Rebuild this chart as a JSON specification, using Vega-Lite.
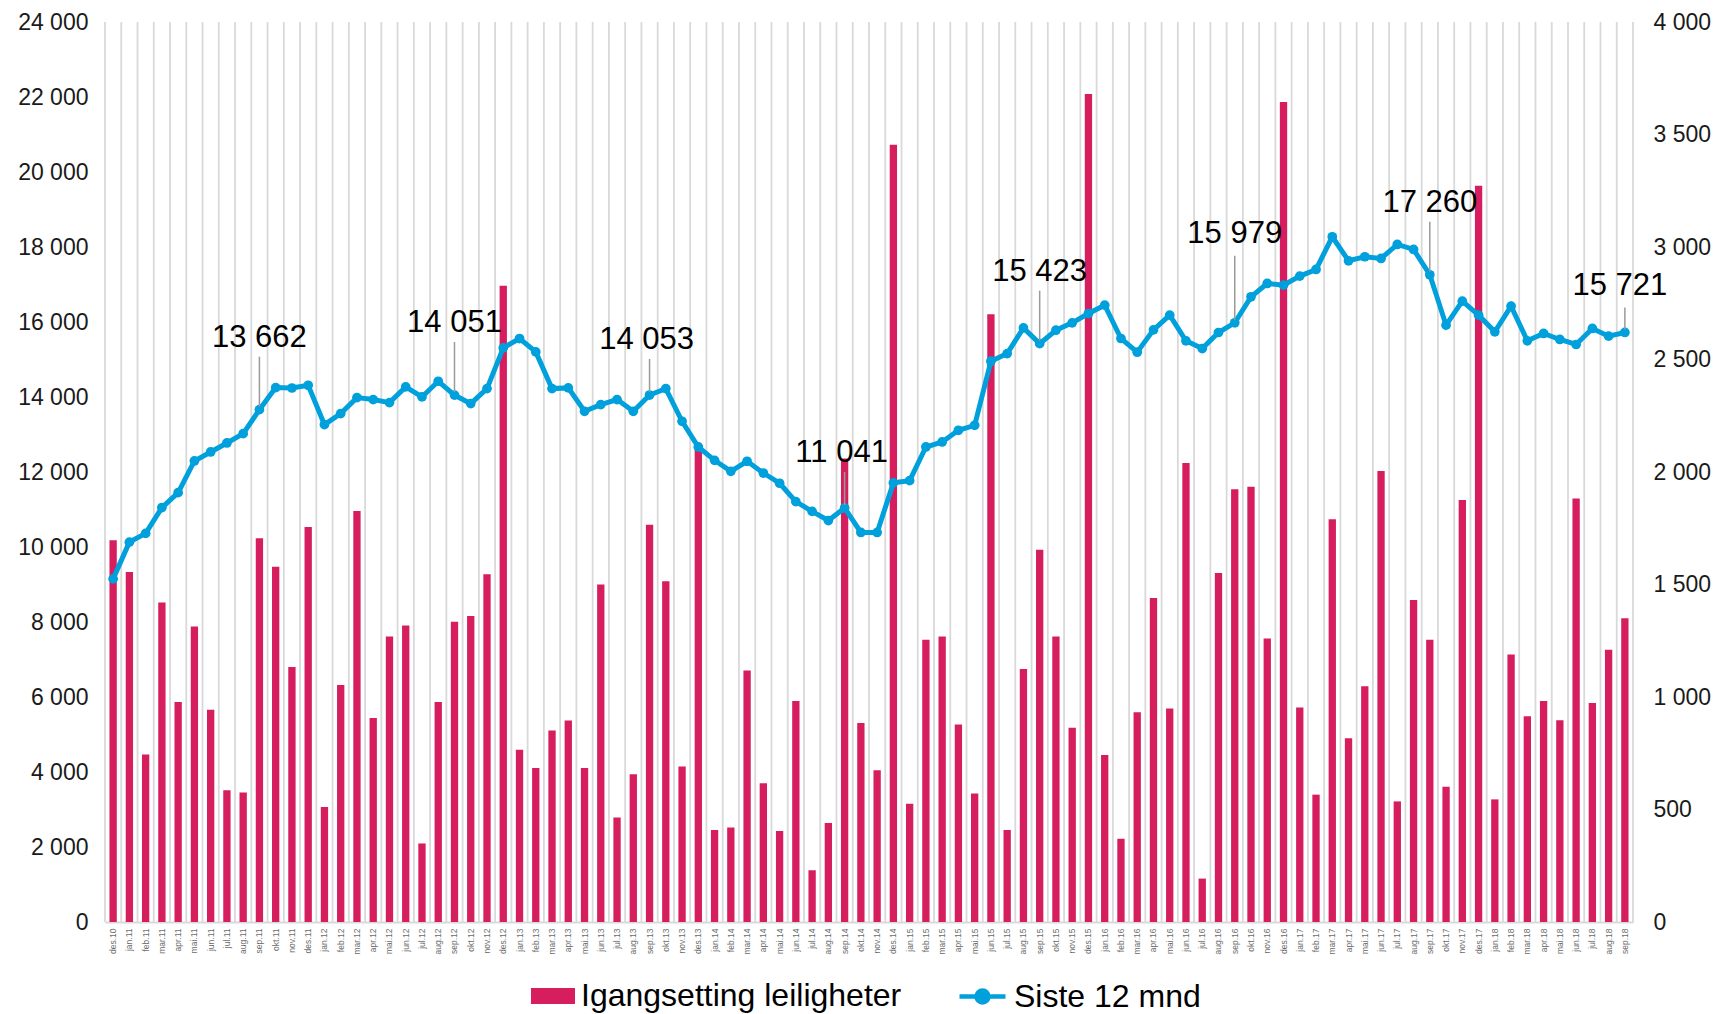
{
  "$schema": "https://vega.github.io/schema/vega-lite/v6.json",
  "width": 1528,
  "height": 900,
  "autosize": {"type": "none"},
  "padding": {"left": 105, "top": 22, "right": 83, "bottom": 92},
  "background": "white",
  "config": {
    "view": {"stroke": null},
    "font": "Liberation Sans",
    "locale": {"number": {"decimal": ",", "thousands": " ", "grouping": [3], "currency": ["", " kr"]}}
  },
  "data": {"values": [
    {"month": "des.10", "igangsatt": 1697, "siste12": 9150},
    {"month": "jan.11", "igangsatt": 1556, "siste12": 10130},
    {"month": "feb.11", "igangsatt": 745, "siste12": 10363},
    {"month": "mar.11", "igangsatt": 1420, "siste12": 11052},
    {"month": "apr.11", "igangsatt": 978, "siste12": 11450},
    {"month": "mai.11", "igangsatt": 1313, "siste12": 12294},
    {"month": "jun.11", "igangsatt": 943, "siste12": 12534},
    {"month": "jul.11", "igangsatt": 586, "siste12": 12774},
    {"month": "aug.11", "igangsatt": 576, "siste12": 13023},
    {"month": "sep.11", "igangsatt": 1706, "siste12": 13662},
    {"month": "okt.11", "igangsatt": 1579, "siste12": 14251},
    {"month": "nov.11", "igangsatt": 1133, "siste12": 14240},
    {"month": "des.11", "igangsatt": 1756, "siste12": 14313},
    {"month": "jan.12", "igangsatt": 511, "siste12": 13263},
    {"month": "feb.12", "igangsatt": 1053, "siste12": 13557},
    {"month": "mar.12", "igangsatt": 1827, "siste12": 13984},
    {"month": "apr.12", "igangsatt": 907, "siste12": 13931},
    {"month": "mai.12", "igangsatt": 1269, "siste12": 13851},
    {"month": "jun.12", "igangsatt": 1318, "siste12": 14269},
    {"month": "jul.12", "igangsatt": 349, "siste12": 14002},
    {"month": "aug.12", "igangsatt": 978, "siste12": 14420},
    {"month": "sep.12", "igangsatt": 1334, "siste12": 14051},
    {"month": "okt.12", "igangsatt": 1360, "siste12": 13824},
    {"month": "nov.12", "igangsatt": 1546, "siste12": 14224},
    {"month": "des.12", "igangsatt": 2828, "siste12": 15310},
    {"month": "jan.13", "igangsatt": 766, "siste12": 15559},
    {"month": "feb.13", "igangsatt": 684, "siste12": 15203},
    {"month": "mar.13", "igangsatt": 851, "siste12": 14224},
    {"month": "apr.13", "igangsatt": 896, "siste12": 14242},
    {"month": "mai.13", "igangsatt": 684, "siste12": 13619},
    {"month": "jun.13", "igangsatt": 1500, "siste12": 13797},
    {"month": "jul.13", "igangsatt": 464, "siste12": 13931},
    {"month": "aug.13", "igangsatt": 657, "siste12": 13619},
    {"month": "sep.13", "igangsatt": 1766, "siste12": 14053},
    {"month": "okt.13", "igangsatt": 1514, "siste12": 14224},
    {"month": "nov.13", "igangsatt": 691, "siste12": 13352},
    {"month": "des.13", "igangsatt": 2110, "siste12": 12667},
    {"month": "jan.14", "igangsatt": 409, "siste12": 12311},
    {"month": "feb.14", "igangsatt": 420, "siste12": 12018},
    {"month": "mar.14", "igangsatt": 1118, "siste12": 12285},
    {"month": "apr.14", "igangsatt": 617, "siste12": 11973},
    {"month": "mai.14", "igangsatt": 405, "siste12": 11700},
    {"month": "jun.14", "igangsatt": 982, "siste12": 11210},
    {"month": "jul.14", "igangsatt": 230, "siste12": 10950},
    {"month": "aug.14", "igangsatt": 440, "siste12": 10706},
    {"month": "sep.14", "igangsatt": 2060, "siste12": 11041},
    {"month": "okt.14", "igangsatt": 885, "siste12": 10388},
    {"month": "nov.14", "igangsatt": 675, "siste12": 10388},
    {"month": "des.14", "igangsatt": 3455, "siste12": 11710},
    {"month": "jan.15", "igangsatt": 526, "siste12": 11770},
    {"month": "feb.15", "igangsatt": 1254, "siste12": 12667},
    {"month": "mar.15", "igangsatt": 1269, "siste12": 12801},
    {"month": "apr.15", "igangsatt": 878, "siste12": 13112},
    {"month": "mai.15", "igangsatt": 571, "siste12": 13246},
    {"month": "jun.15", "igangsatt": 2701, "siste12": 14954},
    {"month": "jul.15", "igangsatt": 409, "siste12": 15158},
    {"month": "aug.15", "igangsatt": 1124, "siste12": 15843},
    {"month": "sep.15", "igangsatt": 1655, "siste12": 15423},
    {"month": "okt.15", "igangsatt": 1269, "siste12": 15781},
    {"month": "nov.15", "igangsatt": 863, "siste12": 15977},
    {"month": "des.15", "igangsatt": 3680, "siste12": 16226},
    {"month": "jan.16", "igangsatt": 742, "siste12": 16449},
    {"month": "feb.16", "igangsatt": 370, "siste12": 15560},
    {"month": "mar.16", "igangsatt": 932, "siste12": 15195},
    {"month": "apr.16", "igangsatt": 1440, "siste12": 15790},
    {"month": "mai.16", "igangsatt": 949, "siste12": 16183},
    {"month": "jun.16", "igangsatt": 2040, "siste12": 15498},
    {"month": "jul.16", "igangsatt": 193, "siste12": 15293},
    {"month": "aug.16", "igangsatt": 1551, "siste12": 15720},
    {"month": "sep.16", "igangsatt": 1923, "siste12": 15979},
    {"month": "okt.16", "igangsatt": 1934, "siste12": 16672},
    {"month": "nov.16", "igangsatt": 1260, "siste12": 17028},
    {"month": "des.16", "igangsatt": 3645, "siste12": 16983},
    {"month": "jan.17", "igangsatt": 953, "siste12": 17224},
    {"month": "feb.17", "igangsatt": 566, "siste12": 17401},
    {"month": "mar.17", "igangsatt": 1790, "siste12": 18273},
    {"month": "apr.17", "igangsatt": 817, "siste12": 17633},
    {"month": "mai.17", "igangsatt": 1048, "siste12": 17740},
    {"month": "jun.17", "igangsatt": 2005, "siste12": 17695},
    {"month": "jul.17", "igangsatt": 536, "siste12": 18068},
    {"month": "aug.17", "igangsatt": 1431, "siste12": 17935},
    {"month": "sep.17", "igangsatt": 1255, "siste12": 17260},
    {"month": "okt.17", "igangsatt": 601, "siste12": 15916},
    {"month": "nov.17", "igangsatt": 1876, "siste12": 16556},
    {"month": "des.17", "igangsatt": 3272, "siste12": 16183},
    {"month": "jan.18", "igangsatt": 545, "siste12": 15738},
    {"month": "feb.18", "igangsatt": 1189, "siste12": 16423},
    {"month": "mar.18", "igangsatt": 914, "siste12": 15498},
    {"month": "apr.18", "igangsatt": 982, "siste12": 15694},
    {"month": "mai.18", "igangsatt": 897, "siste12": 15534},
    {"month": "jun.18", "igangsatt": 1882, "siste12": 15400},
    {"month": "jul.18", "igangsatt": 973, "siste12": 15827},
    {"month": "aug.18", "igangsatt": 1210, "siste12": 15623},
    {"month": "sep.18", "igangsatt": 1350, "siste12": 15721}
  ]},
  "encoding": {
    "x": {
      "field": "month", "type": "nominal", "sort": null,
      "scale": {"paddingInner": 0, "paddingOuter": 0},
      "axis": {
        "title": null, "labelAngle": -90, "labelFontSize": 8.5, "labelColor": "#6b6b6b",
        "labelPadding": 6, "ticks": false, "domainColor": "#d9d9d9", "domainWidth": 2,
        "grid": false, "labelOverlap": false
      }
    }
  },
  "layer": [
    {
      "mark": {"type": "rule", "color": "#d9d9d9", "strokeWidth": 1.8},
      "encoding": {"x": {"field": "month", "type": "nominal", "sort": null, "bandPosition": 0}}
    },
    {
      "transform": [{"filter": {"field": "month", "equal": "sep.18"}}],
      "mark": {"type": "rule", "color": "#d9d9d9", "strokeWidth": 1.8},
      "encoding": {"x": {"field": "month", "type": "nominal", "sort": null, "bandPosition": 1}}
    },
    {
      "mark": {"type": "bar", "width": {"band": 0.45}},
      "encoding": {
        "y": {
          "field": "igangsatt", "type": "quantitative",
          "scale": {"domain": [0, 4000], "nice": false},
          "axis": {
            "orient": "right", "title": null, "values": [0, 500, 1000, 1500, 2000, 2500, 3000, 3500, 4000],
            "format": ",d", "domain": false, "ticks": false, "grid": false,
            "labelFontSize": 23, "labelColor": "#1a1a1a", "labelPadding": 20
          }
        },
        "fill": {
          "datum": "Igangsetting leiligheter", "type": "nominal",
          "scale": {"range": ["#D61D5E"]},
          "legend": {
            "orient": "none", "legendX": 426, "legendY": 952, "title": null, "padding": 0,
            "symbolType": "M-1,-0.36H1V0.36H-1Z", "symbolSize": 1936, "symbolStrokeWidth": 0,
            "labelFontSize": 32, "labelColor": "#000000", "labelLimit": 0, "labelOffset": 6
          }
        }
      }
    },
    {
      "encoding": {
        "y": {
          "field": "siste12", "type": "quantitative",
          "scale": {"domain": [0, 24000], "nice": false},
          "axis": {
            "orient": "left", "title": null,
            "values": [0, 2000, 4000, 6000, 8000, 10000, 12000, 14000, 16000, 18000, 20000, 22000, 24000],
            "format": ",d", "domain": false, "ticks": false, "grid": false,
            "labelFontSize": 23, "labelColor": "#1a1a1a", "labelPadding": 17
          }
        }
      },
      "layer": [
        {
          "mark": {"type": "line", "strokeWidth": 5},
          "encoding": {
            "stroke": {
              "datum": "Siste 12 mnd", "type": "nominal",
              "scale": {"range": ["#00A0DC"]},
              "legend": {
                "orient": "none", "legendX": 852, "legendY": 949, "title": null, "padding": 0,
                "symbolType": "M-1,0H1M0.26,0A0.26,0.26,0,1,1,-0.26,0A0.26,0.26,0,1,1,0.26,0Z",
                "symbolSize": 2116, "symbolStrokeWidth": 4.5, "symbolFillColor": "#00A0DC",
                "labelFontSize": 32, "labelColor": "#000000", "labelLimit": 0, "labelOffset": 6,
                "encode": {"symbols": {"update": {"fill": {"value": "#00A0DC"}, "fillOpacity": {"value": 1}}}}
              }
            }
          }
        },
        {
          "mark": {"type": "circle", "size": 95, "color": "#00A0DC", "opacity": 1}
        },
        {
          "transform": [{"filter": {"field": "month", "oneOf": ["sep.11", "sep.12", "sep.15", "sep.17"]}}],
          "layer": [
            {"mark": {"type": "rule", "color": "#9a9a9a", "strokeWidth": 1.5, "yOffset": -3, "y2Offset": -53},
             "encoding": {"y2": {"field": "siste12"}}},
            {"mark": {"type": "text", "fontSize": 31, "color": "#000000", "align": "center", "baseline": "alphabetic", "dy": -63},
             "encoding": {"text": {"field": "siste12", "type": "quantitative", "format": ",d"}}}
          ]
        },
        {
          "transform": [{"filter": {"field": "month", "oneOf": ["sep.13", "sep.14"]}}],
          "layer": [
            {"mark": {"type": "rule", "color": "#9a9a9a", "strokeWidth": 1.5, "yOffset": -3, "y2Offset": -36},
             "encoding": {"y2": {"field": "siste12"}}},
            {"mark": {"type": "text", "fontSize": 31, "color": "#000000", "align": "center", "baseline": "alphabetic", "dy": -46, "dx": -3},
             "encoding": {"text": {"field": "siste12", "type": "quantitative", "format": ",d"}}}
          ]
        },
        {
          "transform": [{"filter": {"field": "month", "equal": "sep.16"}}],
          "layer": [
            {"mark": {"type": "rule", "color": "#9a9a9a", "strokeWidth": 1.5, "yOffset": -3, "y2Offset": -67},
             "encoding": {"y2": {"field": "siste12"}}},
            {"mark": {"type": "text", "fontSize": 31, "color": "#000000", "align": "center", "baseline": "alphabetic", "dy": -80},
             "encoding": {"text": {"field": "siste12", "type": "quantitative", "format": ",d"}}}
          ]
        },
        {
          "transform": [{"filter": {"field": "month", "equal": "sep.18"}}],
          "layer": [
            {"mark": {"type": "rule", "color": "#9a9a9a", "strokeWidth": 1.5, "yOffset": -3, "y2Offset": -25},
             "encoding": {"y2": {"field": "siste12"}}},
            {"mark": {"type": "text", "fontSize": 31, "color": "#000000", "align": "center", "baseline": "alphabetic", "dy": -37, "dx": -5},
             "encoding": {"text": {"field": "siste12", "type": "quantitative", "format": ",d"}}}
          ]
        }
      ]
    }
  ],
  "resolve": {"scale": {"y": "independent"}}
}
